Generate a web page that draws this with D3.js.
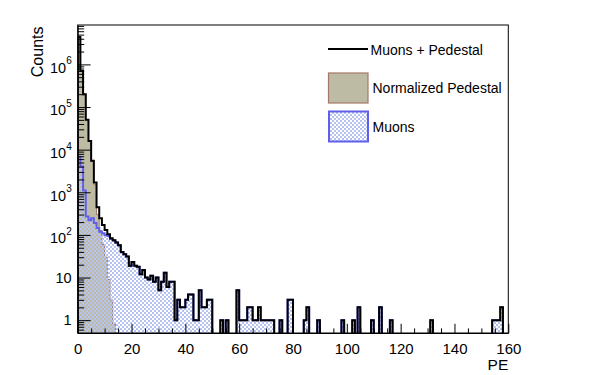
<!DOCTYPE html>
<html><head><meta charset="utf-8">
<script src="https://cdn.jsdelivr.net/npm/d3@7"></script>
<style>body{margin:0;background:#fff;} svg{display:block;} text{font-family:"Liberation Sans",Arial,Helvetica,sans-serif;fill:#000;}</style>
</head><body>
<svg id="c" width="598" height="375"></svg>
<script>
// Muon counts per 1-PE bin (0..159)
const muonCounts = [
  6800,4000,1100,270,220,245,190,145,118,110,
  100,94,80,74,66,57,40,35,31,19,
  23,19,18,12,15,10,9,11,8,10,
  5,8,13,6,8,8,1,3,2,2,
  3,4,4,1,1,5,2,2,3,3,
  0,0,0,1,0,1,0,0,0,5,
  1,1,1,2,2,1,1,2,1,1,
  1,1,1,0,0,1,0,0,3,3,
  0,0,0,0,1,2,0,0,0,1,
  0,0,0,0,0,0,0,0,1,0,
  0,0,1,0,2,0,0,0,0,1,
  0,0,2,0,0,0,1,0,0,0,
  0,0,0,0,0,0,0,0,0,0,
  0,1,0,0,0,0,0,0,0,0,
  0,0,0,0,0,0,0,0,0,0,
  0,0,0,0,1,1,1,2,0,0
];
// Normalized pedestal per bin (bins beyond are empty)
const pedestalCounts = [4.39e6,6.96e5,1.99e5,4.98e4,1.58e4,5.25e3,1.5e3,300,127,60,30,9,3,0.8];
const xTickValues = [0,20,40,60,80,100,120,140,160];
const yDecades = [0,1,2,3,4,5,6];
const legendLabels = ["Muons + Pedestal","Normalized Pedestal","Muons"];

const nBins = muonCounts.length;
const totalCounts = muonCounts.map((m,i)=> m + (pedestalCounts[i]||0));

const L=77.7, R=508.3, T=25, B=333;
const x = d3.scaleLinear().domain([0,160]).range([L,R]);
const y = d3.scaleLog().domain([0.5,8.4e6]).range([B,T]);

const svg = d3.select("#c");
const defs = svg.append("defs");
defs.append("clipPath").attr("id","frameClip").append("rect")
  .attr("x",L).attr("y",T).attr("width",R-L).attr("height",B-T);
const pat = defs.append("pattern").attr("id","hatch").attr("patternUnits","userSpaceOnUse")
  .attr("x",0).attr("y",0).attr("width",4).attr("height",4);
pat.append("rect").attr("x",0).attr("y",0).attr("width",2).attr("height",2).attr("fill","#b6c3f1");
pat.append("rect").attr("x",2).attr("y",2).attr("width",2).attr("height",2).attr("fill","#b6c3f1");

const yv = v => v > 0.5 ? y(v) : B + 4;
function stepPoints(vals){
  const pts = [[x(0), B+4]];
  vals.forEach((v,i)=>{ pts.push([x(i), yv(v)]); pts.push([x(i+1), yv(v)]); });
  pts.push([x(vals.length), B+4]);
  return pts;
}
const line = d3.line();
const pedFull = d3.range(nBins).map(i=> pedestalCounts[i]||0);

const g = svg.append("g").attr("clip-path","url(#frameClip)");
g.append("path").attr("d", line(stepPoints(pedFull))+"Z").attr("fill","#bebba4").attr("stroke","none");
g.append("path").attr("d", line(stepPoints(pedFull))).attr("fill","none").attr("stroke","#a4786a").attr("stroke-width",1);
g.append("path").attr("d", line(stepPoints(muonCounts))+"Z").attr("fill","url(#hatch)").attr("stroke","none");
g.append("path").attr("d", line(stepPoints(muonCounts))).attr("fill","none").attr("stroke","#5f5fec").attr("stroke-width",2);
g.append("path").attr("d", line(stepPoints(totalCounts))).attr("fill","none").attr("stroke","#000").attr("stroke-width",2);

// X axis
const xMinor = d3.range(0,161,5).filter(v=>v%20!==0);
const xAxisMaj = d3.axisBottom(x).tickValues(xTickValues).tickSizeInner(-9.2).tickSizeOuter(0).tickPadding(10.4).tickFormat(d3.format("d"));
const xa = svg.append("g").attr("transform",`translate(0,${B})`).call(xAxisMaj);
xa.selectAll("text").attr("font-size",15).attr("font-family",'"Liberation Sans",Arial,sans-serif');
const xAxisMin = d3.axisBottom(x).tickValues(xMinor).tickSizeInner(-4.6).tickSizeOuter(0).tickFormat("");
svg.append("g").attr("transform",`translate(0,${B})`).call(xAxisMin).select(".domain").remove();

// Y axis
const yMajor = yDecades.map(k=>Math.pow(10,k));
const yMinor = [];
for(let k=-1;k<=6;k++) for(let m=2;m<=9;m++){ const v=m*Math.pow(10,k); if(v>=0.5 && v<=8.4e6) yMinor.push(v); }
svg.append("g").attr("transform",`translate(${L},0)`)
  .call(d3.axisLeft(y).tickValues(yMajor).tickSizeInner(-12.9).tickSizeOuter(0).tickFormat(""));
svg.append("g").attr("transform",`translate(${L},0)`)
  .call(d3.axisLeft(y).tickValues(yMinor).tickSizeInner(-6.5).tickSizeOuter(0).tickFormat("")).select(".domain").remove();
svg.selectAll(".domain").attr("stroke","#000");

yDecades.forEach(k=>{
  const yy = y(Math.pow(10,k));
  const t = svg.append("text").attr("text-anchor","end").attr("x",71.7).attr("font-size",14.5);
  if(k===0){ t.attr("y",yy+5.2).text("1"); }
  else if(k===1){ t.attr("y",yy+5.2).text("10"); }
  else {
    t.attr("y",yy+8.4);
    t.append("tspan").text("10");
    t.append("tspan").attr("font-size",10).attr("dy",-8.4).text(String(k));
  }
});

// frame
svg.append("rect").attr("x",L).attr("y",T).attr("width",R-L).attr("height",B-T)
  .attr("fill","none").attr("stroke","#000").attr("stroke-width",1);

// axis titles
svg.append("text").attr("transform","translate(42.5,26.5) rotate(-90)").attr("text-anchor","end").attr("font-size",16).text("Counts");
svg.append("text").attr("x",R).attr("y",370).attr("text-anchor","end").attr("font-size",15.5).text("PE");

// legend
const lg = svg.append("g");
lg.append("line").attr("x1",328).attr("x2",368).attr("y1",49).attr("y2",49).attr("stroke","#000").attr("stroke-width",2);
lg.append("rect").attr("x",328.5).attr("y",73).attr("width",39.5).attr("height",30).attr("fill","#bebba4").attr("stroke","#a4786a").attr("stroke-width",1.2);
lg.append("rect").attr("x",329).attr("y",111.5).attr("width",39).attr("height",30).attr("fill","url(#hatch)").attr("stroke","#5f5fec").attr("stroke-width",2);
const ly = [55, 93, 131.5];
legendLabels.forEach((s,i)=>{
  lg.append("text").attr("x",i===0?370.5:372.5).attr("y",ly[i]).attr("font-size",14).text(s);
});
</script>
</body></html>
